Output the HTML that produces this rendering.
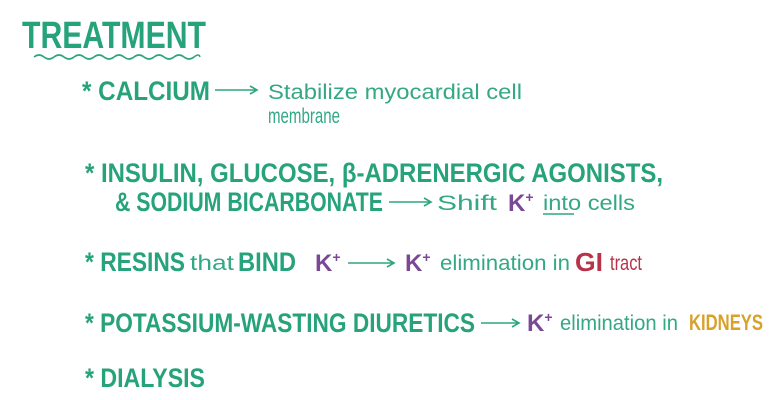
<!DOCTYPE html>
<html><head><meta charset="utf-8"><style>
html,body{margin:0;padding:0;background:#fff;width:780px;height:400px;overflow:hidden}
svg{display:block}
.h{font-family:"Liberation Sans",sans-serif;font-weight:bold;fill:#27a37b}
.t{font-family:"Liberation Sans",sans-serif;fill:#34a884}
.k{font-family:"Liberation Sans",sans-serif;font-weight:bold;fill:#7a4895}
.ar{stroke:#2ea57f;stroke-width:1.6;fill:none}
</style></head><body>
<svg width="780" height="400" viewBox="0 0 780 400">
<rect width="780" height="400" fill="#fff"/>
<text class="h" x="22" y="48" font-size="38" textLength="184" lengthAdjust="spacingAndGlyphs">TREATMENT</text>
<path d="M34 57 q5 -4 10 0 t10 0 t10 0 t10 0 t10 0 t10 0 t10 0 t10 0 t10 0 t10 0 t10 0 t10 0 t10 0 t10 0 t10 0 t10 0 t6 0" stroke="#2ea57f" stroke-width="1.6" fill="none"/>

<g>
<text class="h" x="82" y="100" font-size="27" textLength="128" lengthAdjust="spacingAndGlyphs">* CALCIUM</text>
<path class="ar" d="M215 90 H256 M250 86 L257 90 L250 94"/>
<text class="t" x="268" y="99" font-size="21" textLength="254" lengthAdjust="spacingAndGlyphs">Stabilize myocardial cell</text>
<text class="t" x="268" y="123" font-size="21" textLength="72" lengthAdjust="spacingAndGlyphs">membrane</text>
</g>

<g>
<text class="h" x="85" y="182" font-size="27" textLength="578" lengthAdjust="spacingAndGlyphs">* INSULIN, GLUCOSE, β-ADRENERGIC AGONISTS,</text>
<text class="h" x="115" y="211" font-size="27" textLength="268" lengthAdjust="spacingAndGlyphs">&amp; SODIUM BICARBONATE</text>
<path class="ar" d="M389 202 H430 M424 198 L431 202 L424 206"/>
<text class="t" x="437" y="210" font-size="21" textLength="60" lengthAdjust="spacingAndGlyphs">Shift</text>
<text class="k" x="508" y="211" font-size="24">K<tspan font-size="14" dy="-9">+</tspan></text>
<text class="t" x="543" y="210" font-size="21" textLength="92" lengthAdjust="spacingAndGlyphs">into cells</text>
<path class="ar" d="M543 214 H574"/>
</g>

<g>
<text class="h" x="85" y="271" font-size="27" textLength="100" lengthAdjust="spacingAndGlyphs">* RESINS</text>
<text class="t" x="190" y="270" font-size="21" textLength="44" lengthAdjust="spacingAndGlyphs">that</text>
<text class="h" x="238" y="271" font-size="27" textLength="58" lengthAdjust="spacingAndGlyphs">BIND</text>
<text class="k" x="315" y="271" font-size="24">K<tspan font-size="14" dy="-9">+</tspan></text>
<path class="ar" d="M348 263 H393 M387 259 L394 263 L387 267"/>
<text class="k" x="405" y="271" font-size="24">K<tspan font-size="14" dy="-9">+</tspan></text>
<text class="t" x="440" y="270" font-size="21" textLength="130" lengthAdjust="spacingAndGlyphs">elimination in</text>
<text class="h" x="575" y="271" font-size="26" style="fill:#b8324a" textLength="28" lengthAdjust="spacingAndGlyphs">GI</text>
<text class="t" x="610" y="270" font-size="21" style="fill:#b8324a" textLength="32" lengthAdjust="spacingAndGlyphs">tract</text>
</g>

<g>
<text class="h" x="85" y="332" font-size="27" textLength="390" lengthAdjust="spacingAndGlyphs">* POTASSIUM-WASTING DIURETICS</text>
<path class="ar" d="M481 323 H518 M512 319 L519 323 L512 327"/>
<text class="k" x="527" y="331" font-size="24">K<tspan font-size="14" dy="-9">+</tspan></text>
<text class="t" x="560" y="330" font-size="21" textLength="118" lengthAdjust="spacingAndGlyphs">elimination in</text>
<text class="h" x="689" y="330" font-size="22" style="fill:#d8a12a" textLength="74" lengthAdjust="spacingAndGlyphs">KIDNEYS</text>
</g>

<g>
<text class="h" x="85" y="387" font-size="27" textLength="120" lengthAdjust="spacingAndGlyphs">* DIALYSIS</text>
</g>
</svg>
</body></html>
